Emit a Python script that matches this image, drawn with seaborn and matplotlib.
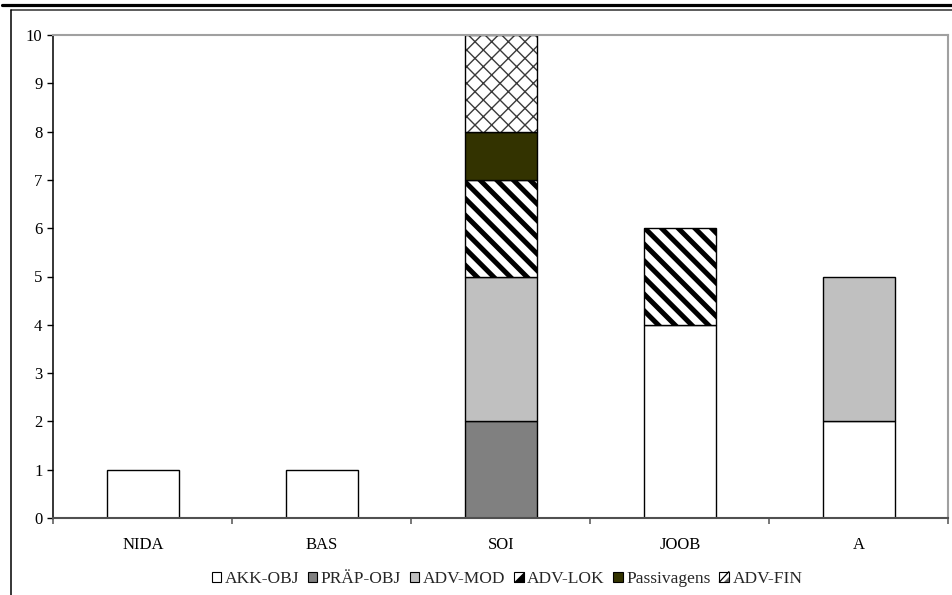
import matplotlib
matplotlib.use("Agg")
import matplotlib.pyplot as plt
from matplotlib.lines import Line2D
from matplotlib.patches import Patch, Rectangle, Polygon
from matplotlib.legend_handler import HandlerBase
import seaborn as sns
import pandas as pd
import numpy as np

# Categories and stacked series values (bottom to top)
categories = ["NIDA", "BAS", "SOI", "JOOB", "A"]
series_names = ["AKK-OBJ", "PRÄP-OBJ", "ADV-MOD", "ADV-LOK", "Passivagens", "ADV-FIN"]
akk_obj = [1, 1, 0, 4, 2]
praep_obj = [0, 0, 2, 0, 0]
adv_mod = [0, 0, 3, 0, 3]
adv_lok = [0, 0, 2, 2, 0]
passivagens = [0, 0, 1, 0, 0]
adv_fin = [0, 0, 2, 0, 0]
y_ticks = list(range(0, 11))

series_values = [akk_obj, praep_obj, adv_mod, adv_lok, passivagens, adv_fin]

# Fill / hatch style per series
styles = {
    "AKK-OBJ": dict(fill="white", hatch=None, hcolor=None, hlw=1.0),
    "PRÄP-OBJ": dict(fill="#808080", hatch=None, hcolor=None, hlw=1.0),
    "ADV-MOD": dict(fill="#C0C0C0", hatch=None, hcolor=None, hlw=1.0),
    "ADV-LOK": dict(fill="white", hatch="\\\\", hcolor="black", hlw=3.6),
    "Passivagens": dict(fill="#333300", hatch=None, hcolor=None, hlw=1.0),
    "ADV-FIN": dict(fill="white", hatch="xx", hcolor="#3a3a3a", hlw=1.0),
}

sns.set_theme(style="white")
plt.rcParams["font.family"] = ["Liberation Serif", "DejaVu Serif"]
plt.rcParams["font.size"] = 12

W, H = 953, 595
fig = plt.figure(figsize=(W / 100, H / 100), dpi=100)
ax = fig.add_axes([53.5 / W, 1 - 518 / H, (948.5 - 53.5) / W, (518 - 35) / H])

bar_width = 0.4
base = np.zeros(len(categories))
for name, vals in zip(series_names, series_values):
    vals = np.asarray(vals, dtype=float)
    st = styles[name]
    mask = vals > 0
    df = pd.DataFrame({
        "category": np.array(categories)[mask],
        "value": vals[mask],
        "bottom": base[mask],
    })
    if len(df):
        if st["hatch"]:
            with plt.rc_context({"hatch.linewidth": st["hlw"]}):
                sns.barplot(data=df, x="category", y="value", order=categories,
                            bottom=df["bottom"].values, width=bar_width,
                            color=st["fill"], saturation=1, errorbar=None,
                            hatch=st["hatch"], edgecolor=st["hcolor"],
                            linewidth=0, ax=ax)
            for p in ax.patches[-len(df):]:
                if hasattr(p, "set_hatch_linewidth"):
                    p.set_hatch_linewidth(st["hlw"])
            sns.barplot(data=df, x="category", y="value", order=categories,
                        bottom=df["bottom"].values, width=bar_width,
                        color="black", fill=False, errorbar=None,
                        linewidth=1.0, ax=ax)
        else:
            sns.barplot(data=df, x="category", y="value", order=categories,
                        bottom=df["bottom"].values, width=bar_width,
                        color=st["fill"], saturation=1, errorbar=None,
                        edgecolor="black", linewidth=1.0, ax=ax)
    base = base + vals

ax.set_xlim(-0.5, len(categories) - 0.5)
ax.set_ylim(0, 10)
ax.set_yticks(y_ticks)
ax.set_yticklabels([str(t) for t in y_ticks])
ax.set_xticks(range(len(categories)))
ax.set_xticklabels(categories)
ax.set_xticks(np.arange(-0.5, len(categories)), minor=True)
ax.set_xlabel("")
ax.set_ylabel("")
ax.grid(False)

ax.tick_params(axis="x", which="major", length=0, pad=14, labelsize=12, colors="black")
ax.tick_params(axis="x", which="minor", length=4, width=1.2, color="#606060", direction="out", bottom=True)
ax.tick_params(axis="y", which="major", length=4, width=1.0, color="black", direction="out",
               left=True, pad=4, labelsize=12, labelcolor="black")

ax.spines["left"].set_color("black")
ax.spines["left"].set_linewidth(1.1)
ax.spines["bottom"].set_color("#505050")
ax.spines["bottom"].set_linewidth(1.5)
for s in ("top", "right"):
    ax.spines[s].set_color("#a0a0a0")
    ax.spines[s].set_linewidth(1.5)


class DiagonalSwatch(HandlerBase):
    """Small legend square split along a diagonal, one half filled."""

    def __init__(self, kind, **kw):
        super().__init__(**kw)
        self.kind = kind

    def create_artists(self, legend, orig_handle, xdescent, ydescent, width, height, fontsize, trans):
        x0, y0 = -xdescent, -ydescent
        x1, y1 = x0 + width, y0 + height
        arts = [Rectangle((x0, y0), width, height, facecolor="white", edgecolor="black",
                          linewidth=0.8, transform=trans)]
        if self.kind == "lok":
            tri = Polygon([(x0, y0), (x1, y0), (x1, y1)], closed=True, facecolor="black",
                          edgecolor="black", linewidth=0.6, transform=trans)
            arts.append(tri)
        else:
            arts.append(Line2D([x0, x1], [y0, y1], color="black", linewidth=0.9, transform=trans))
            arts.append(Polygon([(x0 + width * 0.5, y0), (x1, y0), (x1, y0 + height * 0.5)],
                                closed=True, facecolor="#606060", edgecolor="none", transform=trans))
        return arts


# Legend
handles = []
handler_map = {}
for name in series_names:
    st = styles[name]
    h = Patch(facecolor=st["fill"], edgecolor="black", linewidth=0.8)
    if name == "ADV-LOK":
        handler_map[h] = DiagonalSwatch("lok")
    elif name == "ADV-FIN":
        handler_map[h] = DiagonalSwatch("fin")
    handles.append(h)
fig.legend(handles, series_names, loc="center", bbox_to_anchor=(507 / W, 1 - 579 / H),
           ncol=6, frameon=False, fontsize=12.5, handlelength=0.55, handleheight=0.55,
           handletextpad=0.2, columnspacing=0.5, borderaxespad=0, borderpad=0,
           handler_map=handler_map)

# Outer frame lines
fig.add_artist(Line2D([2 / W, 1], [1 - 4.5 / H] * 2, color="black", lw=2.3, transform=fig.transFigure))
fig.add_artist(Line2D([11 / W, 1], [1 - 10 / H] * 2, color="#303030", lw=1.1, transform=fig.transFigure))
fig.add_artist(Line2D([11.5 / W] * 2, [1 - 10 / H, 0], color="black", lw=1.1, transform=fig.transFigure))

fig.savefig("out.png", dpi=100, facecolor="white")
